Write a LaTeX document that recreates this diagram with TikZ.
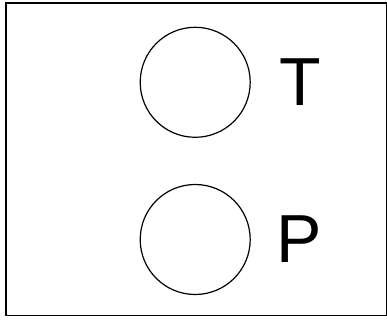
\documentclass[tikz,border=0pt]{standalone}
\usepackage{fontspec}
\setmainfont{Liberation Sans}
\begin{document}
\begin{tikzpicture}[x=1pt,y=1pt,
  frame/.style={draw=black,line width=1.5pt},
  ring/.style={draw=black,line width=1.2pt,circle,minimum size=110pt,inner sep=0pt},
  letter/.style={anchor=base west,inner sep=0pt,font=\fontsize{68}{68}\selectfont}]
\useasboundingbox (0,0) rectangle (387,320);
\node[frame,minimum width=380.5pt,minimum height=312.5pt,inner sep=0pt,anchor=south west] (box) at (5,3.5) {};
\node[ring] (c1) at (195.2,237.7) {};
\node[ring] (c2) at (195.2,80.5) {};
\node[letter] (t) at (279.6,214) {T};
\node[letter] (p) at (275.8,57.7) {P};
\end{tikzpicture}
\end{document}
